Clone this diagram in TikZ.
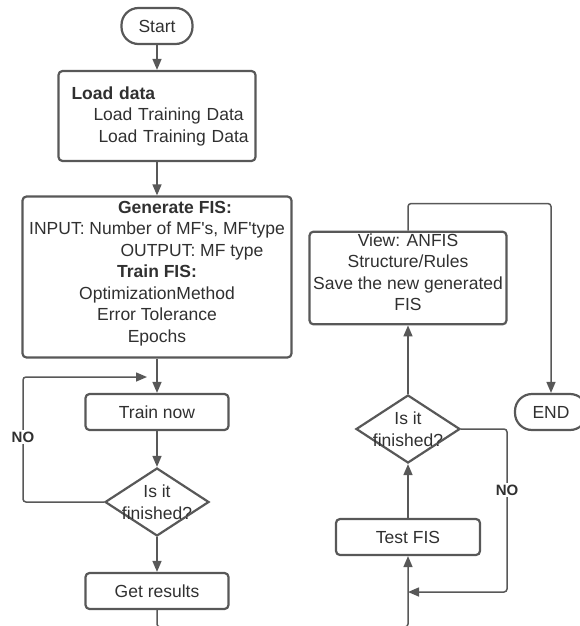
\documentclass[tikz,border=0pt]{standalone}
\usepackage{fontspec}
\setmainfont{Liberation Sans}
\usetikzlibrary{shapes.geometric,arrows.meta}
\definecolor{linegray}{RGB}{88,88,88}
\definecolor{textgray}{RGB}{48,48,48}
\newcommand{\apos}{\textquotesingle}
\begin{document}
\begin{tikzpicture}[x=1pt,y=-1pt,
	font=\fontsize{17.5}{21.5}\selectfont, text=textgray,
	box/.style={draw=linegray, line width=2.2pt, rounded corners=4pt, inner sep=2pt},
	term/.style={draw=linegray, line width=2.2pt, rounded corners=17pt, minimum height=36pt},
	decision/.style={draw=linegray, line width=2.2pt, diamond, minimum width=104pt, minimum height=68pt, inner sep=0pt},
	arr/.style={draw=linegray, line width=1.5pt, -{Triangle[length=11pt,width=9pt]}},
	conn/.style={draw=linegray, line width=1.5pt, rounded corners=3pt},
	nolabel/.style={fill=white, font=\fontsize{15}{18}\selectfont\bfseries, inner sep=2pt}]
			\useasboundingbox (0,0) rectangle (579,626);
			%left column%
			\node [term, minimum width=71pt] (start) at (157,26) {Start};
			\node [box, minimum height=90pt, text width=185pt, inner xsep=6pt, align=left] (load) at (157,116)
			{\hspace*{7pt}\textbf{Load data}\\\hspace*{29pt}Load Training Data\\\hspace*{34pt}Load Training Data};
			\node [box, minimum width=269pt, minimum height=161pt, align=center] (gen) at (157,277)
			{\hspace*{36pt}\textbf{Generate FIS:}\\INPUT: Number of MF\apos s, MF\apos type\\\hspace*{70pt}OUTPUT: MF type\\
			\textbf{Train FIS:}\\OptimizationMethod\\Error Tolerance\\Epochs\\[-11pt]};
			\node [box, minimum width=143pt, minimum height=36pt] (train) at (157,412) {Train now};
			\node [decision, label={[align=center, text=textgray]center:Is it\\finished?}] (ask1) at (157,502) {};
			\node [box, minimum width=143pt, minimum height=36pt] (results) at (157,591) {Get results};
			%right column%
			\node [box, minimum width=144pt, minimum height=36pt] (test) at (408,537) {Test FIS};
			\node [decision, label={[align=center, text=textgray]center:Is it\\finished?}] (ask2) at (408,429) {};
			\node [box, minimum width=197pt, minimum height=90pt, align=center] (view) at (408,278)
			{View: ANFIS\\Structure/Rules\\Save the new generated\\FIS\\[-10pt]};
			\node [term, minimum width=72pt] (end) at (551,412) {END};
			%connectors%
			\coordinate (loopL) at (23,377);
			\coordinate (loopR) at (147,377);
			\coordinate (bot) at (0,627);
			\coordinate (noR) at (507,592);
			\draw [arr] (start) -- (load);
			\draw [arr] (load) -- (gen);
			\draw [arr] (gen) -- (train);
			\draw [arr] (train) -- (ask1);
			\draw [arr] (ask1) -- (results);
			\draw [arr, conn] (ask1.west) -| (loopL) -- (loopR);
			\node [nolabel] (no1) at (23,437) {NO};
			\draw [arr, conn] (results.south) |- (test.south |- bot) -- (test.south);
			\draw [arr] (test) -- (ask2);
			\draw [arr] (ask2) -- (view);
			\draw [arr, conn] (ask2.east) -| (noR) -- (noR -| test.south);
			\node [nolabel] (no2) at (507,490) {NO};
			\draw [arr, conn] (view.north) -- ++(0,-27) -| (end.north);
			\end{tikzpicture}
\end{document}
